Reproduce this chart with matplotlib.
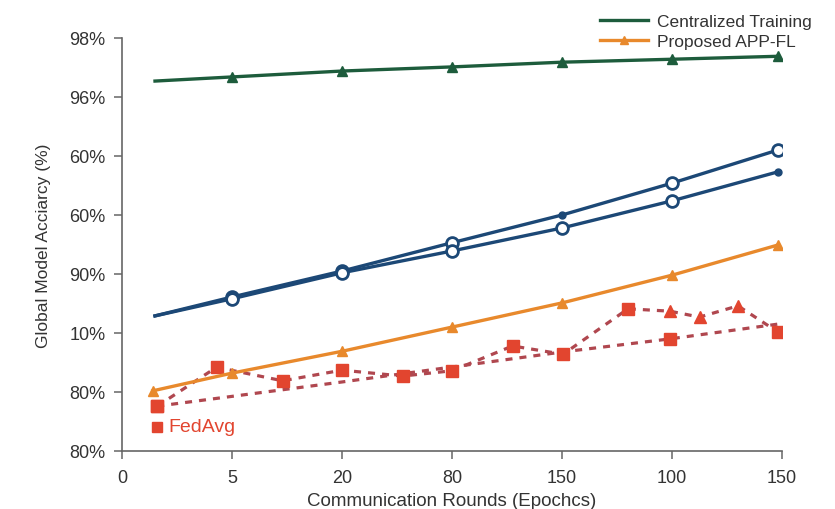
import matplotlib
matplotlib.use("Agg")
import matplotlib.pyplot as plt
from matplotlib.lines import Line2D

plt.rcParams['font.family'] = ['Liberation Sans', 'DejaVu Sans']

# ---- data (in tick-slot units) ----
x_tick_labels = ['0', '5', '20', '80', '150', '100', '150']
y_tick_labels = ['80%', '80%', '10%', '90%', '60%', '60%', '96%', '98%']

x_main = [0.30, 1.0, 2.0, 3.0, 4.0, 5.0, 5.96]
central = [6.27, 6.34, 6.44, 6.51, 6.59, 6.64, 6.69]
blue_upper = [2.29, 2.61, 3.05, 3.53, 4.00, 4.54, 5.10]
blue_lower = [2.29, 2.58, 3.02, 3.39, 3.78, 4.24, 4.73]
x_app = [0.28, 1.0, 2.0, 3.0, 4.0, 5.0, 5.96]
app_fl = [1.02, 1.32, 1.69, 2.10, 2.51, 2.98, 3.49]

x_fed_a = [0.32, 0.86, 1.46, 2.0, 2.55, 3.0, 3.55, 4.01, 4.60, 4.98, 5.25, 5.60, 5.96]
fed_a = [0.76, 1.42, 1.19, 1.37, 1.27, 1.36, 1.78, 1.64, 2.41, 2.37, 2.27, 2.46, 2.02]
x_fed_b = [0.32, 2.0, 4.01, 4.98, 5.96]
fed_b = [0.76, 1.17, 1.68, 1.90, 2.15]

fedavg_label_pos = (0.32, 0.41)

GREEN = '#1d5c3c'
NAVY = '#1c4876'
ORANGE = '#e8892c'
RED = '#e2452f'
REDLINE = '#b0474f'

fig = plt.figure(figsize=(8.35, 5.10), dpi=100)
ax = fig.add_axes([122/835, 1-452/510, (782-122)/835, (452-39)/510])

# Centralized
ax.plot(x_main, central, color=GREEN, lw=2.4, marker='^', ms=7.5,
        markevery=[1, 2, 3, 4, 5, 6], zorder=4)

# Blue lines
ax.plot(x_main, blue_upper, color=NAVY, lw=2.4, zorder=4)
ax.plot(x_main, blue_upper, ls='none', marker='o', ms=8.5, mfc='white', mec=NAVY,
        mew=2.0, markevery=[1, 2, 3, 5, 6], zorder=5)
ax.plot(x_main, blue_upper, ls='none', marker='o', ms=5, color=NAVY,
        markevery=[4], zorder=5)
ax.plot(x_main, blue_lower, color=NAVY, lw=2.4, zorder=4)
ax.plot(x_main, blue_lower, ls='none', marker='o', ms=8.5, mfc='white', mec=NAVY,
        mew=2.0, markevery=[1, 2, 3, 4, 5], zorder=5)
ax.plot(x_main, blue_lower, ls='none', marker='o', ms=5, color=NAVY,
        markevery=[6], zorder=5)

# FedAvg dashed lines
ax.plot(x_fed_b, fed_b, color=REDLINE, lw=2.3, ls=(0, (2.2, 2.2)), zorder=2)
ax.plot(x_fed_b, fed_b, ls='none', marker='s', ms=8.5, color=RED,
        markevery=[0, 3], zorder=3)
ax.plot(x_fed_a, fed_a, color=REDLINE, lw=2.3, ls=(0, (2.2, 2.2)), zorder=2)
ax.plot(x_fed_a, fed_a, ls='none', marker='s', ms=8.5, color=RED,
        markevery=[0, 1, 2, 3, 4, 5, 6, 7, 8, 12], zorder=3)
ax.plot(x_fed_a, fed_a, ls='none', marker='^', ms=8.5, color=RED,
        markevery=[9, 10, 11], zorder=3)

# Proposed APP-FL
ax.plot(x_app, app_fl, color=ORANGE, lw=2.4, marker='^', ms=7.5, zorder=4)

# FedAvg label
ax.plot([fedavg_label_pos[0]], [fedavg_label_pos[1]], ls='none', marker='s',
        ms=7.5, color=RED)
ax.text(fedavg_label_pos[0] + 0.1, fedavg_label_pos[1], 'FedAvg', color=RED,
        fontsize=14, va='center', ha='left')

ax.set_xlim(0, 6)
ax.set_ylim(0, 7)
ax.set_xticks(range(len(x_tick_labels)))
ax.set_xticklabels(x_tick_labels)
ax.set_yticks(range(len(y_tick_labels)))
ax.set_yticklabels(y_tick_labels)
for s in ['top', 'right']:
    ax.spines[s].set_visible(False)
for s in ['left', 'bottom']:
    ax.spines[s].set_color('#666666')
    ax.spines[s].set_linewidth(1.2)
ax.tick_params(axis='both', colors='#666666', labelcolor='#333333',
               labelsize=13, length=6, width=1.1)
ax.tick_params(axis='x', pad=7)
ax.tick_params(axis='y', pad=6)

ax.set_xlabel('Communication Rounds (Epochcs)', fontsize=13.5, color='#333333',
              labelpad=4)
ax.set_ylabel('Global Model Acciarcy (%)', fontsize=12.5, color='#333333',
              labelpad=13)

handles = [Line2D([], [], color=GREEN, lw=2.4),
           Line2D([], [], color=ORANGE, lw=2.4, marker='^', ms=6)]
fig.legend(handles, ['Centralized Training', 'Proposed APP-FL'],
           loc='upper left', bbox_to_anchor=(584/835, 1+1/510), frameon=False,
           fontsize=12.5, handlelength=2.8, handletextpad=0.5,
           labelspacing=0.3, labelcolor='#333333')

fig.savefig('out.png', dpi=100)
